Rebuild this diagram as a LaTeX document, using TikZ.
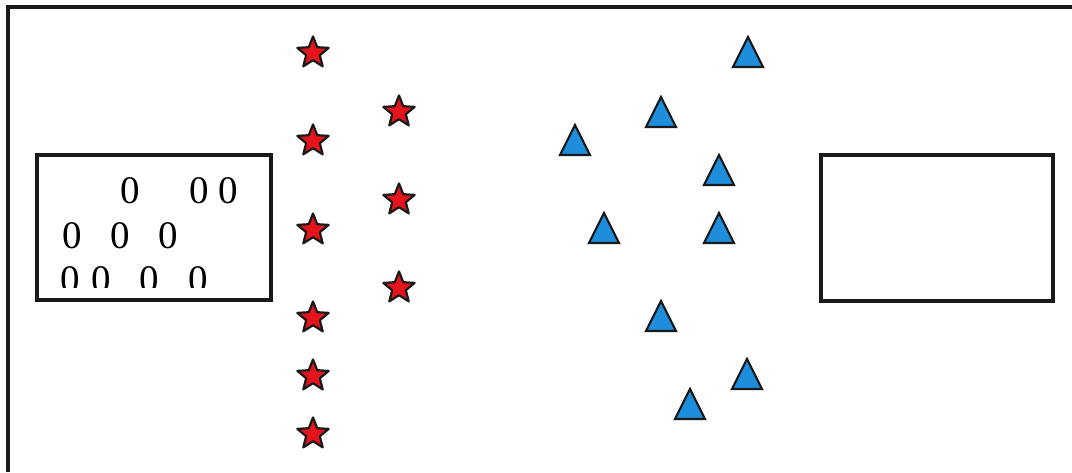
\documentclass[tikz,border=0pt]{standalone}
\usepackage{fontspec}
\setmainfont{Liberation Serif}
\usetikzlibrary{shapes.geometric}
\definecolor{starred}{HTML}{E3141C}
\definecolor{triblue}{HTML}{1E8DDC}
\tikzset{
  frameline/.style={line width=3.4pt, draw=black!90},
  boxline/.style={line width=3.4pt, draw=black!90},
  starmark/.style={star, star points=5, star point ratio=2.3, minimum size=33pt, inner sep=0pt,
     fill=starred, draw=black!90, line width=2.2pt, line join=round},
  zero/.style={anchor=base, inner sep=0pt, font=\fontsize{39}{40}\selectfont},
  trimark/.pic={\draw[fill=triblue, draw=black!90, line width=2.2pt, line join=miter]
     (-15,15) -- (0,-15) -- (15,15) -- cycle;}
}
\begin{document}
\begin{tikzpicture}[x=1pt, y=-1pt]
\useasboundingbox (0,0) rectangle (1072,472);
\fill[white] (0,0) rectangle (1072,472);
% outer frame (top and left visible)
\draw[frameline] (8,472) -- (8,7) -- (1072,7);
% boxes
\draw[boxline] (37,155) rectangle (271,300);
\draw[boxline] (821,155) rectangle (1053,301);
% zeros
\node[zero] (z1) at (130,203) {0};
\node[zero] (z2) at (199,203) {0};
\node[zero] (z3) at (228,203) {0};
\node[zero] (z4) at (72,248) {0};
\node[zero] (z5) at (120,248) {0};
\node[zero] (z6) at (168,248) {0};
\begin{scope}
\clip (40,250) rectangle (268,287);
\node[zero] (z7) at (70,292) {0};
\node[zero] (z8) at (101,292) {0};
\node[zero] (z9) at (149,292) {0};
\node[zero] (z10) at (198,292) {0};
\end{scope}
% stars
\node[starmark] (s1) at (313,53) {};
\node[starmark] (s2) at (313,141) {};
\node[starmark] (s3) at (313,230) {};
\node[starmark] (s4) at (313,318) {};
\node[starmark] (s5) at (313,376) {};
\node[starmark] (s6) at (313,434) {};
\node[starmark] (s7) at (399,112) {};
\node[starmark] (s8) at (399,200) {};
\node[starmark] (s9) at (399,288) {};
% triangles
\pic at (748,52) {trimark};
\pic at (661,112) {trimark};
\pic at (575,140) {trimark};
\pic at (719,170) {trimark};
\pic at (604,228) {trimark};
\pic at (719,228) {trimark};
\pic at (661,316) {trimark};
\pic at (747,374) {trimark};
\pic at (690,404) {trimark};
\end{tikzpicture}
\end{document}
